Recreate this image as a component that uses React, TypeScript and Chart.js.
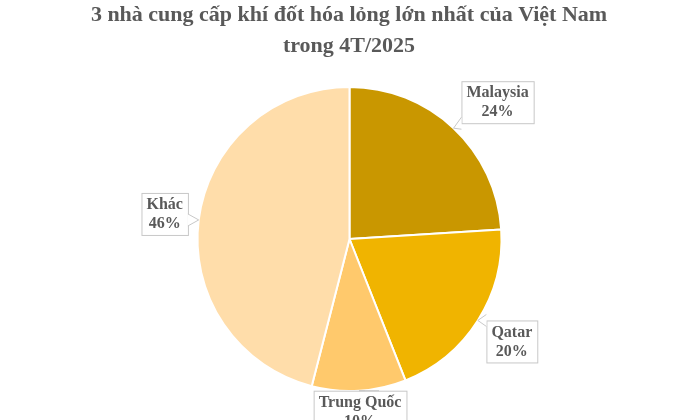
import { useEffect, useRef } from 'react';
import { Chart, registerables } from 'chart.js';
Chart.register(...registerables);

const TITLE_LINES = ['3 nhà cung cấp khí đốt hóa lỏng lớn nhất của Việt Nam', 'trong 4T/2025'];
const SUPPLIERS = ['Malaysia', 'Qatar', 'Trung Quốc', 'Khác'];
const SHARES = [24, 20, 10, 46];
const SLICE_COLORS = ['#C99700', '#F0B400', '#FFC96C', '#FFDDAA'];
// callout box centre offsets from the rim point of each slice
const LABEL_OFFSETS: [number, number][] = [[44, -26], [34, 21], [1, 21], [-34, -6]];

const SERIF = '"Times New Roman", "Liberation Serif", serif';
const TEXT_GRAY = '#595959';

const calloutPlugin = {
  id: 'callouts',
  afterDraw(chart: Chart) {
    const ctx = chart.ctx;
    // title
    ctx.save();
    ctx.fillStyle = TEXT_GRAY;
    ctx.font = `bold 22px ${SERIF}`;
    ctx.textAlign = 'center';
    ctx.textBaseline = 'middle';
    TITLE_LINES.forEach((line, i) => ctx.fillText(line, 349, 15 + i * 31));
    ctx.restore();

    const meta = chart.getDatasetMeta(0);
    meta.data.forEach((el: any, i: number) => {
      const { x, y, startAngle, endAngle, outerRadius } = el.getProps(['x', 'y', 'startAngle', 'endAngle', 'outerRadius'], true);
      const mid = (startAngle + endAngle) / 2;
      const rx = x + Math.cos(mid) * outerRadius;
      const ry = y + Math.sin(mid) * outerRadius;
      const [ox, oy] = LABEL_OFFSETS[i];
      const cx = rx + ox;
      const cy = ry + oy;

      ctx.save();
      ctx.font = `bold 16px ${SERIF}`;
      const l1 = SUPPLIERS[i];
      const l2 = SHARES[i] + '%';
      const w = Math.max(ctx.measureText(l1).width, ctx.measureText(l2).width) + 10;
      const h = 42;
      const bx = cx - w / 2;
      const by = cy - h / 2;

      // pointer
      const ex = Math.max(bx, Math.min(bx + w, rx));
      const ey = Math.max(by, Math.min(by + h, ry));
      const horiz = ex === bx || ex === bx + w;
      const baseA = horiz ? [ex, Math.max(by, Math.min(by + h, ry)) - 6] : [Math.max(bx, Math.min(bx + w, rx)) + 6, ey];
      const baseB = horiz ? [ex, Math.max(by, Math.min(by + h, ry)) + 6] : [Math.max(bx, Math.min(bx + w, rx)) + 20, ey];

      ctx.fillStyle = '#ffffff';
      ctx.strokeStyle = '#C8C8C8';
      ctx.lineWidth = 1;
      ctx.fillRect(bx, by, w, h);
      ctx.strokeRect(bx + 0.5, by + 0.5, w, h);
      ctx.beginPath();
      ctx.moveTo(baseA[0], baseA[1]);
      ctx.lineTo(rx, ry);
      ctx.lineTo(baseB[0], baseB[1]);
      ctx.closePath();
      ctx.fill();
      ctx.beginPath();
      ctx.moveTo(baseA[0], baseA[1]);
      ctx.lineTo(rx, ry);
      ctx.lineTo(baseB[0], baseB[1]);
      ctx.stroke();

      ctx.fillStyle = TEXT_GRAY;
      ctx.textAlign = 'center';
      ctx.textBaseline = 'middle';
      ctx.fillText(l1, cx, cy - 9);
      ctx.fillText(l2, cx, cy + 10);
      ctx.restore();
    });
  }
};

export default function App() {
  const canvasRef = useRef<HTMLCanvasElement>(null);
  const chartRef = useRef<Chart | null>(null);

  useEffect(() => {
    if (!canvasRef.current) return;
    if (chartRef.current) chartRef.current.destroy();
    const ctx = canvasRef.current.getContext('2d');
    if (!ctx) return;

    chartRef.current = new Chart(ctx, {
      type: 'pie',
      data: {
        labels: SUPPLIERS,
        datasets: [{
          data: SHARES,
          backgroundColor: SLICE_COLORS,
          borderColor: '#ffffff',
          borderWidth: 2
        }]
      },
      options: {
        animation: false,
        responsive: false,
        layout: { padding: { top: 86, bottom: 28, left: 0, right: 1 } },
        plugins: {
          legend: { display: false },
          title: { display: false },
          tooltip: { enabled: false }
        }
      },
      plugins: [calloutPlugin]
    });

    return () => {
      if (chartRef.current) {
        chartRef.current.destroy();
        chartRef.current = null;
      }
    };
  }, []);

  return (
    <div style={{ position: 'absolute', left: 0, top: 0, width: 700, height: 420, background: '#fff' }}>
      <canvas ref={canvasRef} width={700} height={420} style={{ width: 700, height: 420 }} />
    </div>
  );
}
